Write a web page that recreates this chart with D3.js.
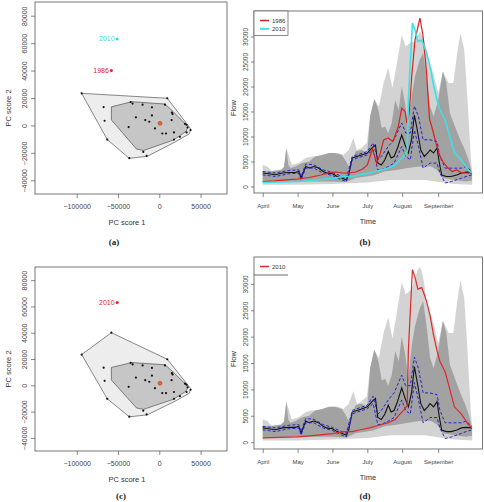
<!DOCTYPE html>
<html>
<head>
<meta charset="utf-8">
<script src="https://cdnjs.cloudflare.com/ajax/libs/d3/7.8.5/d3.min.js"></script>
<style>
  body { margin: 0; background: #fff; }
  svg { display: block; font-family: "Liberation Sans", Arial, sans-serif; }
  .tick text { fill: #444; }
  .tick line { stroke: #555; stroke-width: 0.7; }
  .axis-title { fill: #333; font-size: 7.5px; }
  .panel-tag { font-family: "Liberation Serif", "Times New Roman", serif; font-weight: bold; font-size: 9px; fill: #222; }
</style>
</head>
<body>
<svg id="fig" width="484" height="502"></svg>
<script>
// ---------------- DATA ----------------
// PC scores (PC1, PC2) of the years in the record
const pcScores = [[-94000,23400],[-67400,13400],[-66200,3400],[-63000,-10300],[-36300,-23900],[-34700,17100],
  [-32300,15900],[-20200,15100],[-28300,5900],[-37100,-1200],[-15300,-22200],[-19400,-19300],[-17000,3900],
  [-12100,2700],[-8900,13200],[-8900,7300],[-5200,-2200],[3600,-5900],[8100,-5900],[6900,15100],[9700,19800],
  [15300,9300],[16100,8300],[14900,3900],[17800,-5100],[17800,-10300],[31100,1200],[33100,500],[34300,-1500],
  [37900,-3400],[33100,-5100],[25000,-8300]];
const tukeyMedian = [900, 1500];
const score1986 = [-58000, 40000];
const score2010 = [-51000, 63000];
// 50% bag and fence polygons
const bagPoly = [[-58000,13600],[-33000,17300],[7000,15600],[17000,10000],[29000,2600],[35000,-1000],
  [32300,-4500],[17000,-10700],[-19000,-18300],[-27500,-17300],[-58000,4000]];
const fencePolyA = [[-94000,23400],[9700,19800],[38000,-2500],[36500,-6000],[21000,-11500],[-14500,-22500],
  [-36300,-24000],[-63000,-10300]];
const fencePolyC = [[-94000,23400],[-58000,40000],[9700,19800],[38000,-2500],[36500,-6000],[21000,-11500],
  [-14500,-22500],[-36300,-24000],[-63000,-10300]];
const pcXTicks = [-100000, -50000, 0, 50000];
const pcYTicks = [-40000, -20000, 0, 20000, 40000, 60000, 80000];

// flow curves, [day since 1 April, flow]
const monthTicks = [0, 30, 60, 90, 120, 151];
const monthLabels = ["April", "May", "June", "July", "August", "September"];
const flowTicks = [0, 5000, 10000, 15000, 20000, 25000, 30000];

const medianFlow = [[0,2700],[5,2550],[11,2350],[17,2700],[22,2800],[28,2800],[31,3000],[33,1700],[37,4000],
  [40,3700],[44,4000],[48,3700],[52,3000],[55,2700],[60,2550],[64,2000],[68,1700],[72,1300],[74,2300],[77,5700],
  [81,6000],[85,6300],[90,6700],[94,7700],[97,8300],[99,4700],[102,4300],[105,5300],[108,7000],[110.5,5700],
  [113,6000],[116,7700],[119.6,10300],[122.5,8300],[125.3,6700],[128,9300],[130.5,14300],[133,11300],[136,7300],
  [139,6000],[142,6700],[144,7300],[147,6700],[150,7700],[152,4700],[154,2300],[158,2000],[162,2000],[167,2300],
  [171,2700],[175,2800],[180,2700]];
const ciHigh = [[0,3000],[11,2700],[22,3200],[31,3330],[33,2000],[37,4500],[44,4330],[52,3330],[60,2800],
  [68,2000],[72,1670],[77,6000],[81,6330],[90,7000],[95,8700],[99,5300],[102,6000],[108,8000],[113,9330],
  [119.6,12700],[123,10700],[127,10700],[130.5,16100],[134,14000],[138,9330],[144,9330],[150,9000],[152.5,6000],
  [157,3670],[162.5,3670],[171,3670],[175,4000],[180,3000]];
const ciLow = [[0,2330],[11,2000],[22,2530],[31,2670],[33,1330],[37,3670],[44,3670],[52,2670],[60,2200],
  [68,1330],[72,1000],[77,5330],[81,5670],[90,6330],[95,7330],[99,3330],[102,3330],[108,4000],[113,4670],
  [119.6,8000],[123,6000],[127,5330],[130.5,11300],[134,8000],[138,3670],[144,4670],[150,4670],[152.5,2670],
  [157,700],[162.5,1000],[171,1670],[175,2000],[180,2330]];
const flow1986 = [[0,1000],[10,1130],[20,1330],[30,1500],[40,1800],[50,2300],[57,2800],[63,2900],[68,2700],
  [74,2700],[80,2900],[86,3500],[90,4300],[94.5,7500],[98,4700],[101,6500],[104,9300],[108,9700],[112,9000],
  [116.7,12000],[119.6,15700],[122.5,15000],[124,12700],[126,14500],[128.2,22000],[131,29300],[135.3,33700],
  [138,30000],[141,22700],[143.5,13500],[146,11500],[149,8700],[152,6300],[155,5000],[159,3800],[163,3000],
  [167,3300],[171,2700],[176,3000],[180,2700]];
const flow2010 = [[0,800],[15,900],[30,1000],[45,1300],[60,1600],[70,2000],[77,2000],[85,2400],[92,2700],
  [100,3200],[108,3700],[114,4300],[118,5300],[122,6200],[124.3,7000],[125.3,17300],[126.8,24000],[128.8,32700],
  [131,31300],[133.5,29000],[136.8,29300],[139,28000],[141,26700],[144,24000],[147,20300],[150,17300],
  [152.5,15300],[157,13300],[161,10000],[165,6700],[171,5300],[177,3300],[180,2700]];
const bagHigh = [[0,3000],[5,3000],[11,3200],[16,3300],[18.5,4000],[20.3,7700],[22,4300],[24,3700],[28,4000],
  [34,4700],[40,5000],[45,6000],[51,6300],[57,6700],[62,6700],[68,6300],[71,5300],[74,4000],[77,5300],[80,7000],
  [85,7300],[90,6700],[92.4,14000],[96,17500],[99.6,15300],[102.4,11700],[105.3,12000],[108,10700],[111,12700],
  [114,17300],[117,15300],[119.6,20000],[122.5,16700],[125.3,12000],[128,18000],[131,22000],[135,25300],
  [138,26700],[141,22000],[144,16000],[147,14000],[151,17300],[155,23000],[158,20700],[161,14700],[165.4,12000],
  [170,9300],[174,7300],[178,4700],[180,2700]];
const bagLow = [[0,800],[30,1000],[60,1000],[72,900],[80,1700],[95,2200],[105,3000],[115,3300],[125,3700],
  [135,4000],[145,4000],[150,3300],[155,1700],[165,1300],[175,1000],[180,1200]];
const fenceHighB = [[0,4300],[4,4000],[8,3000],[14,3300],[18,3700],[20.3,7700],[25,4300],[31,4700],[37,5700],
  [42,6000],[48,6000],[54,6300],[59,6700],[65,6700],[69.5,6300],[74,7300],[78,9700],[81,7300],[85,7700],
  [89.6,8700],[92.4,14000],[96,17500],[100,16000],[104,20700],[108,23700],[111.6,19700],[115,24000],
  [119.6,30300],[123,28000],[126.8,28700],[131,29000],[135.3,31000],[139,29300],[142.5,25300],[146.8,22700],
  [151,18700],[155,23000],[160,20700],[164,20700],[167.7,27300],[170.2,30700],[173.4,27300],[176.2,17300],
  [179,6000],[180.3,2700]];
const fenceHighD = [[0,4300],[4,4000],[8,3000],[14,3300],[18,3700],[20.3,7700],[25,4300],[31,4700],[37,5700],
  [42,6000],[48,6000],[54,6300],[59,6700],[65,6700],[69.5,6300],[74,7300],[78,9700],[81,7300],[85,7700],
  [89.6,8700],[92.4,14000],[96,17500],[100,16000],[104,20700],[108,23700],[111.6,19700],[115,24000],
  [119.6,30300],[123,28000],[126.8,28700],[129,29500],[131,31000],[133,32500],[135.3,33200],[137,32300],
  [139,30000],[141,26500],[142.5,25300],[146.8,22700],[151,18700],[155,23000],[160,20700],[164,20700],
  [167.7,27300],[170.2,30700],[173.4,27300],[176.2,17300],[179,6000],[180.3,2700]];
const fenceLow = [[0,330],[30,330],[60,500],[90,800],[110,1300],[140,1300],[155,800],[165,500],[180.3,330]];

// ---------------- SCORE PLOTS ----------------
class ScorePlot {
  constructor(_config) {
    this.config = _config;
    this.initVis();
  }

  initVis() {
    let vis = this;
    const b = vis.config.box;
    vis.xScale = d3.scaleLinear().domain([-150500, 82000]).range([b.left, b.right]);
    vis.yScale = d3.scaleLinear().domain([-50000, 90000]).range([b.bottom, b.top]);
    vis.g = d3.select(vis.config.parentElement).append('g');
    vis.renderVis();
  }

  renderVis() {
    let vis = this;
    const b = vis.config.box;
    const line = d3.line().x(d => vis.xScale(d[0])).y(d => vis.yScale(d[1]));

    vis.g.append('path').attr('d', line(vis.config.fence) + 'Z')
      .attr('fill', '#ededed').attr('stroke', '#3a3a3a').attr('stroke-width', 0.6);
    vis.g.append('path').attr('d', line(bagPoly) + 'Z')
      .attr('fill', '#c6c6c6').attr('stroke', '#3a3a3a').attr('stroke-width', 0.6);

    vis.g.selectAll('.pt').data(vis.config.points).enter().append('circle')
      .attr('cx', d => vis.xScale(d[0])).attr('cy', d => vis.yScale(d[1]))
      .attr('r', 1.1).attr('fill', '#111');

    vis.g.append('circle').attr('cx', vis.xScale(tukeyMedian[0])).attr('cy', vis.yScale(tukeyMedian[1]))
      .attr('r', 2).attr('fill', '#e6622a').attr('stroke', '#b4401a').attr('stroke-width', 0.5);

    // outlying years
    vis.config.outliers.forEach(o => {
      vis.g.append('circle').attr('cx', vis.xScale(o.p[0])).attr('cy', vis.yScale(o.p[1]))
        .attr('r', 1.5).attr('fill', o.color);
      vis.g.append('text').attr('x', vis.xScale(o.p[0]) - 2.5).attr('y', vis.yScale(o.p[1]))
        .attr('dy', '0.35em').attr('text-anchor', 'end').attr('font-size', '7px')
        .attr('fill', o.color).text(o.label);
    });

    vis.g.append('rect').attr('x', b.left).attr('y', b.top)
      .attr('width', b.right - b.left).attr('height', b.bottom - b.top)
      .attr('fill', 'none').attr('stroke', '#555').attr('stroke-width', 0.8);

    // axes
    const xAxis = d3.axisBottom(vis.xScale).tickValues(pcXTicks).tickSize(4).tickFormat(d3.format('d'));
    const xG = vis.g.append('g').attr('transform', `translate(0,${b.bottom})`).call(xAxis);
    xG.select('.domain').remove();
    xG.selectAll('text').attr('y', 10.5).attr('font-size', '7px');

    const yAxis = d3.axisLeft(vis.yScale).tickValues(pcYTicks).tickSize(4).tickFormat(d3.format('d'));
    const yG = vis.g.append('g').attr('transform', `translate(${b.left},0)`).call(yAxis);
    yG.select('.domain').remove();
    yG.selectAll('text').attr('transform', 'rotate(-90)').attr('x', 0).attr('y', -8.5)
      .attr('dy', 0).attr('text-anchor', 'middle').attr('font-size', '7px');

    vis.g.append('text').attr('class', 'axis-title').attr('x', (b.left + b.right) / 2 - 4)
      .attr('y', b.bottom + 31).attr('text-anchor', 'middle').text('PC score 1');
    vis.g.append('text').attr('class', 'axis-title').attr('transform', `rotate(-90)`)
      .attr('x', -((b.top + b.bottom) / 2 + 10)).attr('y', 10.5).attr('text-anchor', 'middle').text('PC score 2');
    vis.g.append('text').attr('class', 'panel-tag').attr('x', vis.config.tagX).attr('y', vis.config.tagY)
      .attr('text-anchor', 'middle').text(vis.config.tag);
  }
}

// ---------------- FLOW PLOTS ----------------
class FlowPlot {
  constructor(_config) {
    this.config = _config;
    this.initVis();
  }

  initVis() {
    let vis = this;
    const b = vis.config.box;
    vis.xScale = d3.scaleLinear().domain([-7.5, 189.1]).range([b.left, b.right]);
    vis.yScale = d3.scaleLinear().domain([-1300, 35100]).range([b.bottom, b.top]);
    vis.g = d3.select(vis.config.parentElement).append('g');
    vis.renderVis();
  }

  renderVis() {
    let vis = this;
    const b = vis.config.box;
    const line = d3.line().x(d => vis.xScale(d[0])).y(d => vis.yScale(d[1]));
    const band = (hi, lo) => line(hi.concat(lo.slice().reverse())) + 'Z';

    vis.g.append('path').attr('d', band(vis.config.fenceHigh, fenceLow)).attr('fill', '#d3d3d3');
    vis.g.append('path').attr('d', band(bagHigh, bagLow)).attr('fill', '#a2a2a2');

    vis.g.append('path').attr('d', line(medianFlow)).attr('fill', 'none')
      .attr('stroke', '#111').attr('stroke-width', 1.1);
    [ciHigh, ciLow].forEach(c => {
      vis.g.append('path').attr('d', line(c)).attr('fill', 'none')
        .attr('stroke', '#2424c8').attr('stroke-width', 1).attr('stroke-dasharray', '3,2');
    });
    vis.config.series.forEach(s => {
      vis.g.append('path').attr('d', line(s.values)).attr('fill', 'none')
        .attr('stroke', s.color).attr('stroke-width', s.width);
    });

    vis.g.append('rect').attr('x', b.left).attr('y', b.top)
      .attr('width', b.right - b.left).attr('height', b.bottom - b.top)
      .attr('fill', 'none').attr('stroke', '#555').attr('stroke-width', 0.8);

    // axes
    const xAxis = d3.axisBottom(vis.xScale).tickValues(monthTicks).tickSize(4)
      .tickFormat((d, i) => monthLabels[i]);
    const xG = vis.g.append('g').attr('transform', `translate(0,${b.bottom})`).call(xAxis);
    xG.select('.domain').remove();
    xG.selectAll('text').attr('y', 10.5).attr('font-size', '6px');

    const yAxis = d3.axisLeft(vis.yScale).tickValues(flowTicks).tickSize(3).tickFormat(d3.format('d'));
    const yG = vis.g.append('g').attr('transform', `translate(${b.left},0)`).call(yAxis);
    yG.select('.domain').remove();
    yG.selectAll('text').attr('transform', 'rotate(-90)').attr('x', 0).attr('y', -6.5)
      .attr('dy', 0).attr('text-anchor', 'middle').attr('font-size', '6.5px');

    vis.g.append('text').attr('class', 'axis-title').attr('x', 368)
      .attr('y', b.bottom + 31).attr('text-anchor', 'middle').attr('font-size', '6.5px').text('Time');
    vis.g.append('text').attr('class', 'axis-title').attr('transform', 'rotate(-90)')
      .attr('x', -((b.top + b.bottom) / 2 + 6)).attr('y', 235.5).attr('text-anchor', 'middle')
      .attr('font-size', '6.5px').text('Flow');
    vis.g.append('text').attr('class', 'panel-tag').attr('x', 365).attr('y', vis.config.tagY)
      .attr('text-anchor', 'middle').text(vis.config.tag);

    // legend
    const lg = vis.g.append('g');
    const lh = 8.3;
    if (vis.config.legendBox) {
      lg.append('rect').attr('x', b.left).attr('y', b.top)
        .attr('width', 34).attr('height', 6 + lh * vis.config.series.length + 2)
        .attr('fill', '#fff').attr('stroke', '#555').attr('stroke-width', 0.7);
    } else {
      lg.append('line').attr('x1', b.left).attr('x2', b.left + 34)
        .attr('y1', b.top + 18).attr('y2', b.top + 18).attr('stroke', '#444').attr('stroke-width', 0.8);
    }
    vis.config.series.forEach((s, i) => {
      const y = b.top + 9.5 + i * lh;
      lg.append('line').attr('x1', b.left + 6).attr('x2', b.left + 15).attr('y1', y).attr('y2', y)
        .attr('stroke', s.color).attr('stroke-width', s.width + 0.3);
      lg.append('text').attr('x', b.left + 18).attr('y', y).attr('dy', '0.35em')
        .attr('font-size', '6px').attr('fill', '#333').text(s.label);
    });
  }
}

const svg = d3.select('#fig');
svg.append('rect').attr('width', 484).attr('height', 502).attr('fill', '#fff');

new ScorePlot({
  parentElement: '#fig', box: {left: 35, right: 227, top: 2, bottom: 194},
  fence: fencePolyA, points: pcScores, tag: '(a)', tagX: 114, tagY: 245,
  outliers: [{p: score2010, color: '#3ad8e0', label: '2010'}, {p: score1986, color: '#e02424', label: '1986'}]
});
new ScorePlot({
  parentElement: '#fig', box: {left: 35, right: 227, top: 267, bottom: 451},
  fence: fencePolyC, points: pcScores.concat([score1986]), tag: '(c)', tagX: 121, tagY: 499,
  outliers: [{p: score2010, color: '#e02424', label: '2010'}]
});
new FlowPlot({
  parentElement: '#fig', box: {left: 254, right: 482.5, top: 11, bottom: 193},
  fenceHigh: fenceHighB, tag: '(b)', tagY: 245, legendBox: true,
  series: [{values: flow1986, color: '#dc2020', width: 1.2, label: '1986'},
           {values: flow2010, color: '#3ee0e4', width: 1.6, label: '2010'}]
});
new FlowPlot({
  parentElement: '#fig', box: {left: 254, right: 482.5, top: 257, bottom: 449},
  fenceHigh: fenceHighD, tag: '(d)', tagY: 499, legendBox: false,
  series: [{values: flow2010, color: '#e02828', width: 1.2, label: '2010'}]
});
</script>
</body>
</html>
